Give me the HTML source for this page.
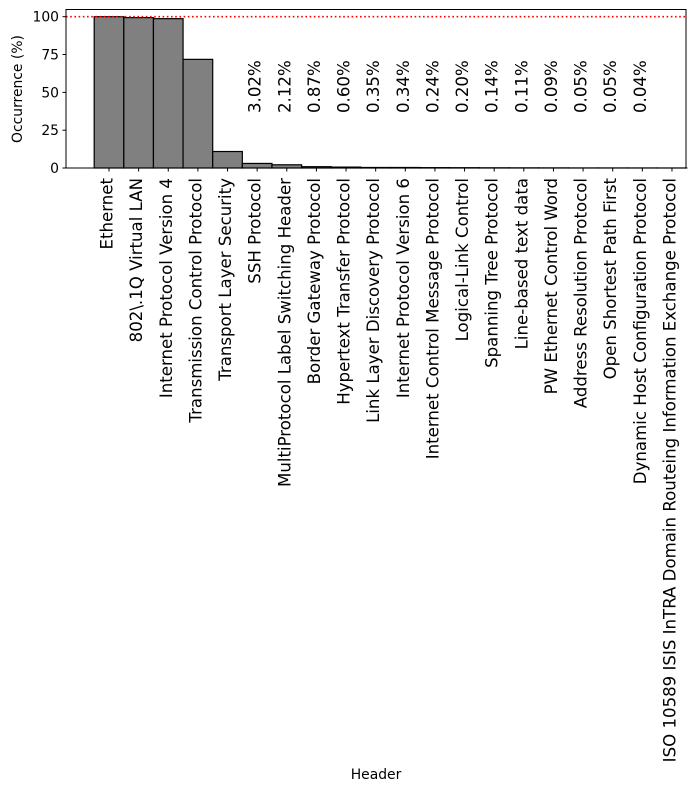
<!DOCTYPE html>
<html><head><meta charset="utf-8"><style>body{margin:0;background:#fff}svg{display:block}text{font-family:"DejaVu Sans","Liberation Sans",sans-serif;fill:#000}</style></head><body>
<svg width="695" height="792" xmlns="http://www.w3.org/2000/svg">
<rect width="695" height="792" fill="#fff"/>
<g id="bars" fill="#808080" stroke="#000" stroke-width="1.2"></g>
<line x1="66" y1="16.7" x2="686" y2="16.7" stroke="#ff0000" stroke-width="1.6" stroke-dasharray="1.6,2.6"/>
<rect x="66" y="9.5" width="620" height="158.5" fill="none" stroke="#000" stroke-width="1"/>
<g font-size="13.9" text-anchor="end">
<line x1="62.5" y1="168" x2="66" y2="168" stroke="#000"/><text x="59" y="173">0</text>
<line x1="62.5" y1="130.2" x2="66" y2="130.2" stroke="#000"/><text x="59" y="135.2">25</text>
<line x1="62.5" y1="92.4" x2="66" y2="92.4" stroke="#000"/><text x="59" y="97.4">50</text>
<line x1="62.5" y1="54.5" x2="66" y2="54.5" stroke="#000"/><text x="59" y="59.5">75</text>
<line x1="62.5" y1="16.7" x2="66" y2="16.7" stroke="#000"/><text x="59" y="21.7">100</text>
</g>
<text font-size="13.9" transform="translate(22,89) rotate(-90)" text-anchor="middle">Occurrence (%)</text>
<text font-size="13.9" x="376" y="779" text-anchor="middle">Header</text>
<g id="ticks"></g>
</svg>
<script>
var names=["Ethernet","802\\.1Q Virtual LAN","Internet Protocol Version 4","Transmission Control Protocol","Transport Layer Security","SSH Protocol","MultiProtocol Label Switching Header","Border Gateway Protocol","Hypertext Transfer Protocol","Link Layer Discovery Protocol","Internet Protocol Version 6","Internet Control Message Protocol","Logical-Link Control","Spanning Tree Protocol","Line-based text data","PW Ethernet Control Word","Address Resolution Protocol","Open Shortest Path First","Dynamic Host Configuration Protocol","ISO 10589 ISIS InTRA Domain Routeing Information Exchange Protocol"];
var vals=[100,99.4,98.7,71.8,10.9,3.02,2.12,0.87,0.6,0.35,0.34,0.24,0.2,0.14,0.11,0.09,0.05,0.05,0.04,0.02];
var ns="http://www.w3.org/2000/svg",b=document.getElementById("bars"),t=document.getElementById("ticks");
var w=29.63,s=1.513;
for(var i=0;i<20;i++){var x=109+i*w;
var r=document.createElementNS(ns,"rect");r.setAttribute("x",x-w/2);r.setAttribute("width",w);var h=vals[i]*s;r.setAttribute("y",168-h);r.setAttribute("height",h);b.appendChild(r);
var l=document.createElementNS(ns,"line");l.setAttribute("x1",x);l.setAttribute("x2",x);l.setAttribute("y1",168);l.setAttribute("y2",171.5);l.setAttribute("stroke","#000");t.appendChild(l);
var tx=document.createElementNS(ns,"text");tx.setAttribute("font-size","16.6");tx.setAttribute("text-anchor","end");tx.setAttribute("transform","translate("+(x+3.5)+",178) rotate(-90)");tx.textContent=names[i];t.appendChild(tx);
if(i>=5&&i<=18){var p=document.createElementNS(ns,"text");p.setAttribute("font-size","16.6");p.setAttribute("transform","translate("+(x+3.5)+",113) rotate(-90)");p.textContent=vals[i].toFixed(2)+"%";t.appendChild(p);}
}
</script>
</body></html>
